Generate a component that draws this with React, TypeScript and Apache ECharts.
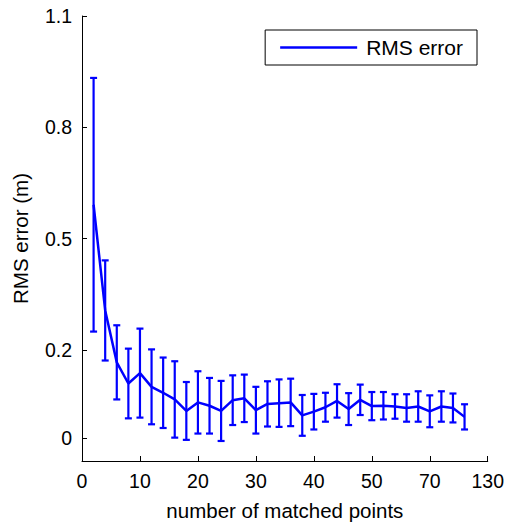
import React, { useEffect, useRef } from "react";
import * as echarts from "echarts";

const X_VALUES = [2, 4, 6, 8, 10, 12, 14, 16, 18, 20, 22, 24, 26, 28, 30, 32, 34, 36, 38, 40, 42, 44, 46, 48, 50, 52, 54, 56, 58, 60, 62, 64, 66];
const RMS_MEAN = [0.591, 0.306, 0.166, 0.109, 0.137, 0.100, 0.084, 0.066, 0.035, 0.058, 0.049, 0.035, 0.064, 0.069, 0.037, 0.054, 0.056, 0.058, 0.023, 0.033, 0.045, 0.062, 0.040, 0.065, 0.048, 0.049, 0.047, 0.043, 0.047, 0.034, 0.047, 0.043, 0.019];
const RMS_STD = [0.342, 0.135, 0.100, 0.094, 0.120, 0.101, 0.095, 0.103, 0.078, 0.084, 0.075, 0.081, 0.067, 0.064, 0.063, 0.061, 0.064, 0.064, 0.055, 0.048, 0.039, 0.045, 0.043, 0.041, 0.038, 0.037, 0.033, 0.037, 0.041, 0.043, 0.041, 0.039, 0.034];

const X_TICK_VALUES = [0, 10, 20, 30, 40, 50, 60, 70];
const X_TICK_LABELS = ["0", "10", "20", "30", "40", "50", "70", "130"];
const Y_TICK_VALUES = [-0.039, 0.2, 0.5, 0.8, 1.1];
const Y_TICK_LABELS = ["0", "0.2", "0.5", "0.8", "1.1"];

const FONT = "'Liberation Sans', Arial, Helvetica, sans-serif";
const BLUE = "#0000ff";

export default function App() {
  const ref = useRef<HTMLDivElement>(null);
  useEffect(() => {
    if (!ref.current) return;
    const chart = echarts.init(ref.current, undefined, { renderer: "svg" });
    const lineData = X_VALUES.map((x, i) => [x, RMS_MEAN[i]]);
    const errData = X_VALUES.map((x, i) => [x, RMS_MEAN[i] - RMS_STD[i], RMS_MEAN[i] + RMS_STD[i]]);
    chart.setOption({
      animation: false,
      backgroundColor: "#ffffff",
      textStyle: { fontFamily: FONT },
      grid: { left: 82, right: 18, top: 16, bottom: 64 },
      legend: {
        data: ["RMS error"],
        right: 30,
        top: 30,
        orient: "vertical",
        icon: "rect",
        borderColor: "#000",
        borderWidth: 1,
        borderRadius: 0,
        padding: [7, 14, 7, 15],
        itemWidth: 77,
        itemHeight: 2.5,
        textStyle: { fontFamily: FONT, fontSize: 21, color: "#000", padding: [0, 0, 0, 4] },
      },
      xAxis: {
        type: "value",
        min: 0,
        max: 70,
        interval: 10,
        name: "number of matched points",
        nameLocation: "middle",
        nameGap: 39,
        nameTextStyle: { fontFamily: FONT, fontSize: 20.5, color: "#000" },
        axisLine: { show: true, onZero: false, lineStyle: { color: "#000", width: 1 } },
        axisTick: { show: true, inside: true, length: 5, lineStyle: { color: "#000" } },
        axisLabel: {
          fontFamily: FONT,
          fontSize: 19.5,
          color: "#000",
          margin: 10,
          formatter: (v: number) => {
            const i = X_TICK_VALUES.indexOf(Math.round(v));
            return i >= 0 ? X_TICK_LABELS[i] : "";
          },
        },
        splitLine: { show: false },
      },
      yAxis: {
        type: "value",
        min: -0.1,
        max: 1.1,
        name: "RMS error (m)",
        nameLocation: "middle",
        nameGap: 51,
        nameTextStyle: { fontFamily: FONT, fontSize: 20.5, color: "#000" },
        axisLine: { show: true, onZero: false, lineStyle: { color: "#000", width: 1 } },
        axisTick: { show: true, inside: true, length: 5, customValues: Y_TICK_VALUES, lineStyle: { color: "#000" } },
        axisLabel: {
          fontFamily: FONT,
          fontSize: 19.5,
          color: "#000",
          margin: 10,
          customValues: Y_TICK_VALUES,
          formatter: (v: number) => {
            let best = 0;
            Y_TICK_VALUES.forEach((t, i) => {
              if (Math.abs(t - v) < Math.abs(Y_TICK_VALUES[best] - v)) best = i;
            });
            return Y_TICK_LABELS[best];
          },
        },
        splitLine: { show: false },
      },
      series: [
        {
          type: "custom",
          data: errData,
          encode: { x: 0, y: [1, 2] },
          renderItem: (params: any, api: any) => {
            const x = api.value(0);
            const lo = api.coord([x, api.value(1)]);
            const hi = api.coord([x, api.value(2)]);
            const cap = 3.5;
            const style = { stroke: BLUE, lineWidth: 2.2 };
            return {
              type: "group",
              children: [
                { type: "line", shape: { x1: lo[0], y1: lo[1], x2: hi[0], y2: hi[1] }, style },
                { type: "line", shape: { x1: lo[0] - cap, y1: lo[1], x2: lo[0] + cap, y2: lo[1] }, style },
                { type: "line", shape: { x1: hi[0] - cap, y1: hi[1], x2: hi[0] + cap, y2: hi[1] }, style },
              ],
            };
          },
          z: 2,
        },
        {
          name: "RMS error",
          type: "line",
          data: lineData,
          symbol: "none",
          lineStyle: { color: BLUE, width: 2.5 },
          itemStyle: { color: BLUE },
          z: 3,
        },
      ],
    });
    return () => chart.dispose();
  }, []);
  return <div ref={ref} style={{ position: "fixed", left: 0, top: 0, width: 507, height: 526 }} />;
}
